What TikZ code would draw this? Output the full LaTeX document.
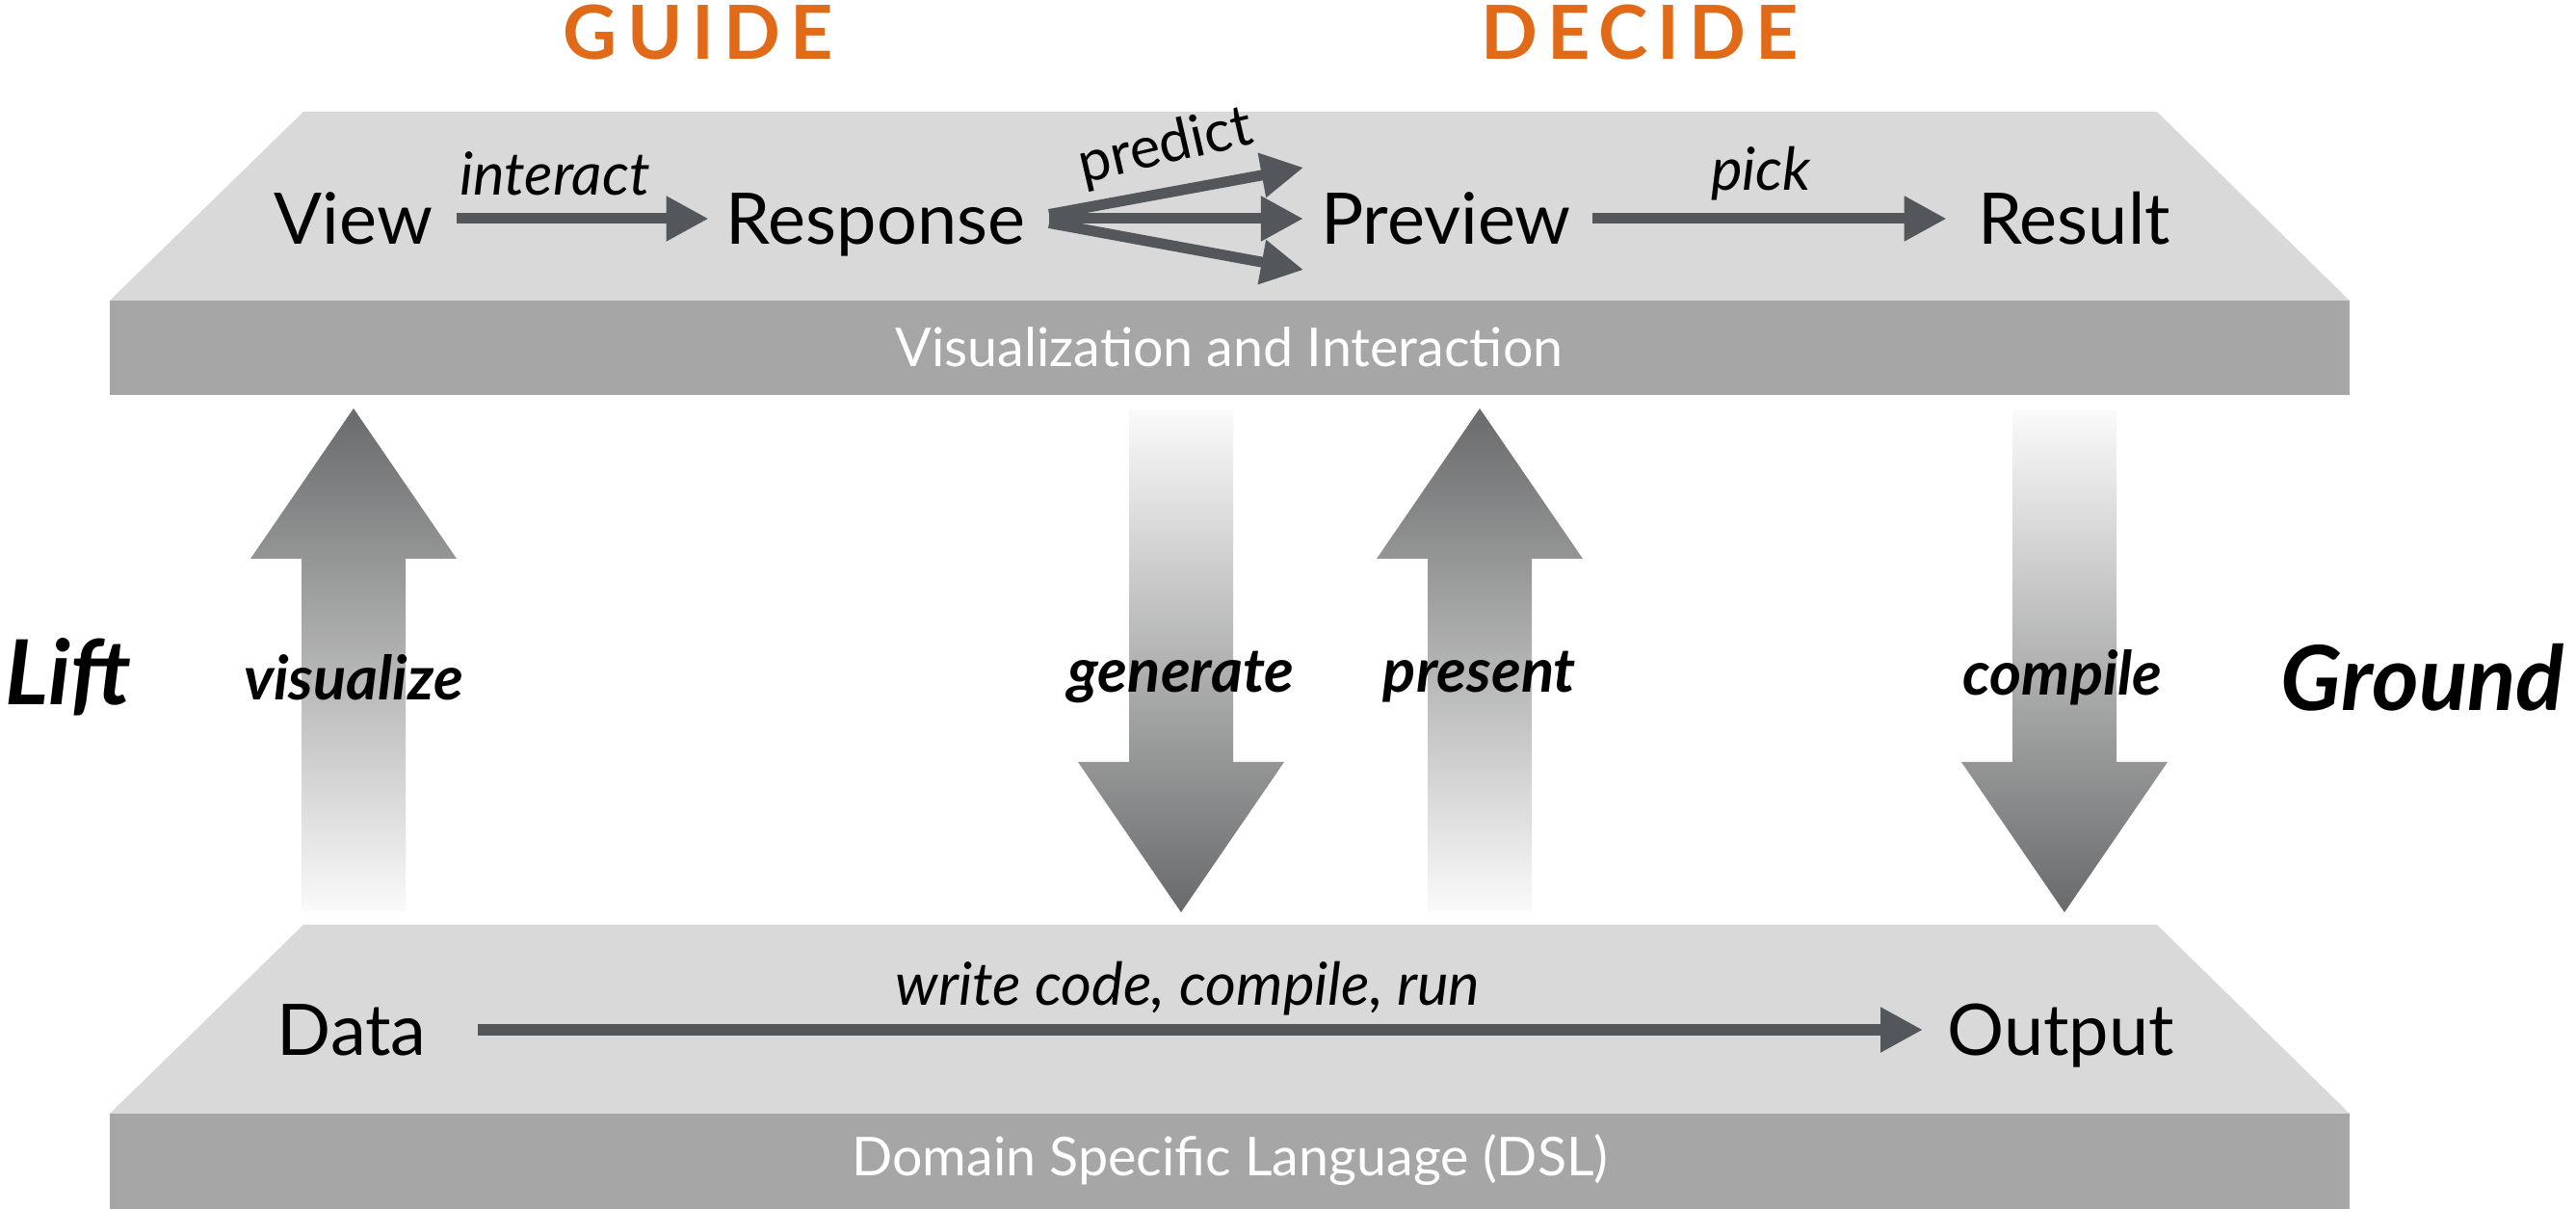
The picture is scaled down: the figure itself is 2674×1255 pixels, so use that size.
\documentclass[tikz,border=0pt]{standalone}
\usepackage{fontspec}
\setmainfont{Lato}
\usetikzlibrary{arrows.meta}
\definecolor{platc}{HTML}{D9D9D9}
\definecolor{bandc}{HTML}{A6A6A6}
\definecolor{arrc}{HTML}{53575C}
\definecolor{orng}{HTML}{E06A17}
\definecolor{gdark}{HTML}{696A6B}
\definecolor{glight}{HTML}{FAFAFA}
\newcommand\bigupshape[1]{%
  \shade[top color=gdark, bottom color=glight]
    (#1,424) -- ({#1+107},580) -- ({#1+54},580) -- ({#1+54},946)
    -- ({#1-54},946) -- ({#1-54},580) -- ({#1-107},580) -- cycle;}
\newcommand\bigdownshape[1]{%
  \shade[top color=glight, bottom color=gdark]
    ({#1-54},426) -- ({#1+54},426) -- ({#1+54},791) -- ({#1+107},791)
    -- (#1,947) -- ({#1-107},791) -- ({#1-54},791) -- cycle;}
\begin{document}
\begin{tikzpicture}[x=0.01cm,y=-0.01cm,
  mainlbl/.style={inner sep=0pt, text height=15pt, text depth=0pt, font=\fontsize{21}{25}\selectfont},
  itlbl/.style={inner sep=0pt, font=\fontsize{17.5}{21}\selectfont\itshape},
  bandlbl/.style={inner sep=0pt, text=white, font=\fontsize{15.8}{19}\selectfont},
  biglbl/.style={inner sep=0pt, font=\fontsize{18}{21}\selectfont\bfseries\itshape},
  sidelbl/.style={inner sep=0pt, font=\fontsize{26.5}{30}\selectfont\bfseries\itshape},
  headlbl/.style={inner sep=0pt, text=orng, font=\fontsize{22}{26}\selectfont\bfseries\addfontfeature{LetterSpace=13}},
  conn/.style={draw=arrc, line width=0.11cm, -{Triangle[length=0.44cm, width=0.44cm]}}
]
\useasboundingbox[fill=white] (0,0) rectangle (2674,1255);

% top platform
\fill[platc] (315,116) -- (2239,116) -- (2439,312) -- (114,312) -- cycle;
\fill[bandc] (114,312) rectangle (2439,410);
% bottom platform
\fill[platc] (315,960) -- (2239,960) -- (2439,1156) -- (114,1156) -- cycle;
\fill[bandc] (114,1156) rectangle (2439,1255);

% big arrows
\bigupshape{367}
\bigdownshape{1226}
\bigupshape{1536}
\bigdownshape{2143}

% headings
\node[headlbl] (guide) at (725,34) {GUIDE};
\node[headlbl] (decide) at (1702,34) {DECIDE};

% top layer nodes
\node[mainlbl] (view) at (367,227) {View};
\node[mainlbl] (resp) at (909,227) {Response};
\node[mainlbl] (prev) at (1501,227) {Preview};
\node[mainlbl] (res) at (2153,227) {Result};
\node[bandlbl] (vi) at (1276,360) {Visualization and Interaction};

% bottom layer nodes
\node[mainlbl] (data) at (365,1069) {Data};
\node[mainlbl] (out) at (2139,1069) {Output};
\node[bandlbl] (dsl) at (1277,1204) {Domain Specific Language (DSL)};

% connectors
\draw[conn, shorten <=7pt, shorten >=5pt] (view.east) -- (resp.west);
\draw[conn, shorten <=7pt, shorten >=5pt] (resp.east) -- ([yshift=16pt]prev.west);
\draw[conn, shorten <=7pt, shorten >=5pt] (resp.east) -- (prev.west);
\draw[conn, shorten <=7pt, shorten >=5pt] (resp.east) -- ([yshift=-16pt]prev.west);
\draw[conn, shorten <=6pt, shorten >=9pt] (prev.east) -- (res.west);
\draw[conn, shorten <=15pt, shorten >=7pt] (data.east) -- (out.west);

% connector labels
\node[itlbl] (linteract) at (576,180) {interact};
\node[inner sep=0pt, font=\fontsize{17}{20}\selectfont, rotate=13] (lpredict) at (1210,153) {predict};
\node[itlbl] (lpick) at (1828,180) {pick};
\node[itlbl] (lwrite) at (1233,1026) {write code, compile, run};

% big arrow labels
\node[biglbl] (lvis) at (367,703) {visualize};
\node[biglbl] (lgen) at (1226,703) {generate};
\node[biglbl] (lpres) at (1536,703) {present};
\node[biglbl] (lcomp) at (2141,703) {compile};

% side labels
\node[sidelbl] (lift) at (71,703) {Lift};
\node[sidelbl] (ground) at (2515,703) {Ground};
\end{tikzpicture}
\end{document}
